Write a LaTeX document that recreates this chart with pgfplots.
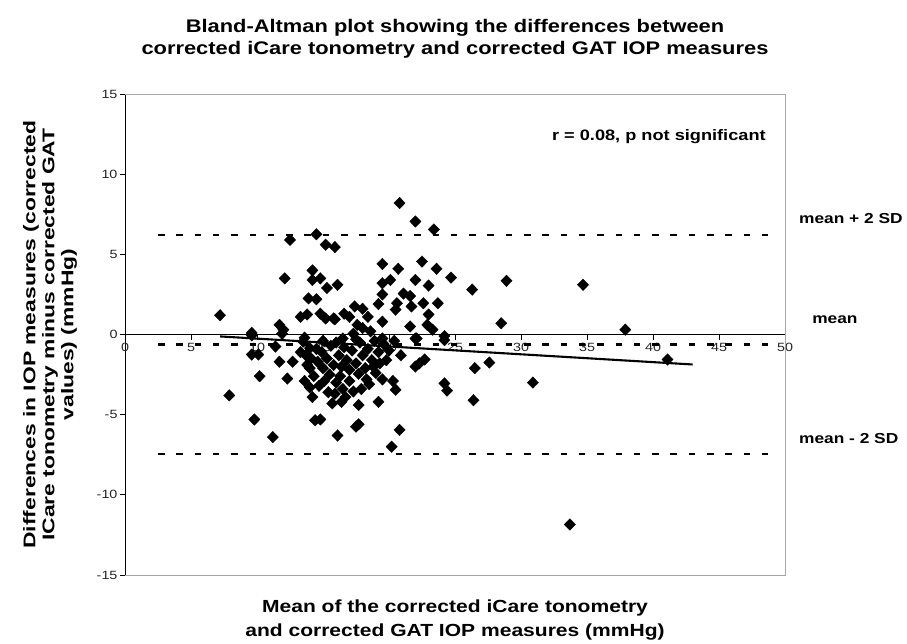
\documentclass[border=0pt]{standalone}
\usepackage{fontspec}
\setmainfont{Liberation Sans}
\newfontfamily\wide[FakeStretch=1.2]{Liberation Sans}
\newfontfamily\wider[FakeStretch=1.35]{Liberation Sans}
\usepackage{pgfplots}
\pgfplotsset{compat=1.18}
\pgfplotstableread{
x y
7.2 1.2
9.6 0.1
11.7 0.6
12.0 0.3
11.9 0.05
12.1 3.5
12.5 5.9
13.3 1.1
13.8 1.25
13.9 2.25
14.2 4.0
14.2 3.4
14.5 6.25
14.5 2.2
14.8 3.5
14.8 1.3
15.2 5.6
15.3 2.9
15.2 1.0
15.8 1.0
15.9 5.45
16.1 3.1
15.9 0.95
17.0 1.1
17.3 0.05
17.4 1.75
17.6 0.6
18.0 1.6
18.0 0.4
18.6 0.2
18.4 1.1
19.2 1.9
16.6 1.3
19.5 4.4
19.5 3.2
19.5 2.5
19.5 0.8
20.1 3.4
20.5 1.55
20.6 1.95
20.7 4.1
20.8 8.2
21.1 2.55
21.6 2.4
21.6 0.5
21.7 1.75
22.0 7.05
22.0 3.4
22.5 4.55
22.6 1.95
22.9 0.6
23.0 3.05
23.0 1.25
23.3 0.3
23.4 6.55
23.6 4.1
23.7 1.95
24.7 3.55
26.3 2.8
28.5 0.7
28.9 3.35
34.7 3.1
37.9 0.3
16.5 -0.25
19.5 -0.25
22.1 -0.25
24.2 -0.1
13.6 -0.2
9.6 -0.05
9.6 -1.25
10.1 -1.25
11.4 -0.75
11.7 -1.7
12.7 -1.7
10.2 -2.6
12.3 -2.75
7.9 -3.8
9.8 -5.3
11.2 -6.4
13.5 -0.45
14.0 -0.85
13.8 -1.9
14.4 -5.35
14.8 -5.3
15.7 -4.3
16.1 -6.3
17.5 -5.75
17.7 -5.6
20.8 -5.95
20.2 -7.0
17.7 -4.4
19.2 -4.2
16.4 -4.2
19.5 -2.8
20.3 -2.9
20.5 -3.45
19.3 -1.8
22.0 -2.0
22.3 -1.8
22.7 -1.56
24.2 -3.05
24.4 -3.5
22.0 -0.25
24.2 -0.35
26.5 -2.1
27.6 -1.75
26.4 -4.1
30.9 -3.0
33.7 -11.85
41.1 -1.56
16.3 -2.6
17.0 -2.9
16.5 -3.4
17.3 -3.55
17.7 -2.45
13.3 -1.1
13.7 -1.3
14.1 -1.5
14.5 -0.9
14.6 -1.7
14.9 -1.1
15.0 -2.1
15.3 -1.5
15.5 -2.5
15.6 -0.7
15.8 -1.9
16.0 -3.0
16.2 -1.3
16.4 -2.0
16.6 -0.8
16.8 -1.6
17.0 -2.2
17.2 -1.0
17.5 -1.8
17.8 -0.5
18.0 -1.3
18.2 -2.1
18.4 -0.9
18.5 -3.1
18.7 -1.6
18.9 -0.4
19.0 -2.4
19.2 -1.1
14.3 -2.6
14.7 -3.2
15.1 -2.9
15.4 -3.6
15.9 -3.7
16.7 -3.9
17.9 -3.4
18.3 -2.8
18.8 -2.0
14.0 -2.1
13.6 -2.9
15.0 -0.4
16.0 -0.5
17.5 -0.3
19.6 -0.6
20.0 -1.0
19.8 -1.6
14.0 -3.3
14.2 -3.9
20.4 -0.4
20.9 -1.3
}\pts
\begin{document}
\begin{tikzpicture}
\begin{axis}[
  name=ax,
  scale only axis,
  width=660bp, height=481bp,
  xmin=0, xmax=50, ymin=-15, ymax=15,
  axis x line=middle, axis y line=left,
  axis line style={-, black, line width=0.8bp},
  hide obscured x ticks=false,
  xtick={0,5,...,50}, ytick={-15,-10,...,15},
  tick align=outside,
  major tick length=5bp,
  tick style={black, line width=0.8bp},
  every tick label/.style={font=\fontsize{12}{14}\selectfont\wide, text=black!85},
  /pgf/number format/assume math mode=true,
  xticklabel style={yshift=0bp},
  yticklabel style={xshift=1bp},
  clip=false,
]
\draw[gray!70, line width=0.9bp] (rel axis cs:0,1) -- (rel axis cs:1,1) -- (rel axis cs:1,0) -- (rel axis cs:0,0);
\addplot[black, line width=2.6bp, dash pattern=on 6.5bp off 11.8bp] coordinates {(2.5,6.2) (49,6.2)};
\addplot[black, line width=2.6bp, dash pattern=on 6.5bp off 11.8bp] coordinates {(2.5,-0.63) (49,-0.63)};
\addplot[black, line width=2.6bp, dash pattern=on 6.5bp off 11.8bp] coordinates {(2.5,-7.45) (49,-7.45)};
\addplot[black, line width=2.1bp] coordinates {(7.2,-0.12) (43,-1.87)};
\addplot[only marks, mark=diamond*, mark size=5.8bp, mark options={xscale=1.3, fill=black, draw=black, line width=0.3bp}] table[x=x,y=y] {\pts};
\node[anchor=east, font=\fontsize{15.2}{18}\selectfont\wide\bfseries] at (axis cs:48.8,12.35) {r = 0.08, p not significant};
\node[anchor=west, font=\fontsize{14.5}{17}\selectfont\wide\bfseries] at (axis cs:50.8,7.24) {mean + 2 SD};
\node[anchor=west, font=\fontsize{14.5}{17}\selectfont\wide\bfseries] at (axis cs:51.8,0.94) {mean};
\node[anchor=west, font=\fontsize{14.5}{17}\selectfont\wide\bfseries] at (axis cs:50.8,-6.49) {mean - 2 SD};
\end{axis}
\node[align=center, font=\fontsize{18.3}{22}\selectfont\wide\bfseries] at ([yshift=55bp]ax.north) {Bland-Altman plot showing the differences between\\corrected iCare tonometry and corrected GAT IOP measures};
\node[align=center, font=\fontsize{17.6}{24}\selectfont\wide\bfseries] at ([yshift=-45bp]ax.south) {Mean of the corrected iCare tonometry\\and corrected GAT IOP measures (mmHg)};
\node[rotate=90, align=center, font=\fontsize{17}{19}\selectfont\wider\bfseries] at ([xshift=-75bp]ax.west) {Differences in IOP measures (corrected\\ICare tonometry minus corrected GAT\\values) (mmHg)};
\pgfresetboundingbox
\path[use as bounding box] ([xshift=-125bp,yshift=-68bp]ax.south west) rectangle ([xshift=122bp,yshift=94bp]ax.north east);
\end{tikzpicture}
\end{document}
